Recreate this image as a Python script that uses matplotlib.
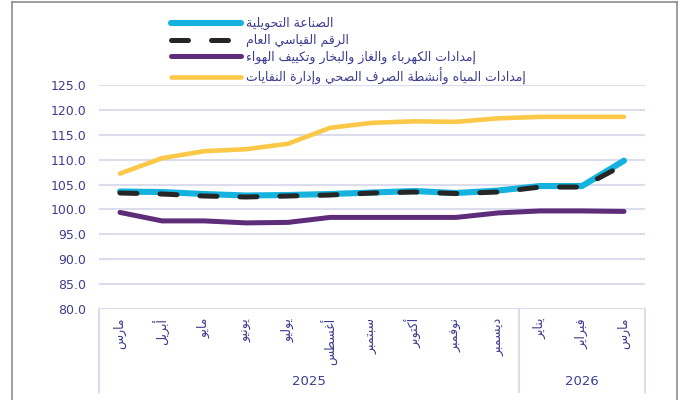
import matplotlib
matplotlib.use('Agg')
import matplotlib.pyplot as plt
from matplotlib.lines import Line2D

# data
months = ['مارس', 'أبريل', 'مايو', 'يونيو', 'يوليو', 'أغسطس', 'سبتمبر',
          'أكتوبر', 'نوفمبر', 'ديسمبر', 'يناير', 'فبراير', 'مارس']
years = ['2025', '2026']
year_counts = [10, 3]

manufacturing = [103.6, 103.5, 103.1, 102.8, 102.9, 103.1, 103.4, 103.7, 103.3, 103.8, 104.7, 104.7, 109.8]
general_index = [103.3, 103.1, 102.7, 102.5, 102.7, 102.9, 103.3, 103.5, 103.2, 103.5, 104.5, 104.5, 109.0]
electricity = [99.4, 97.7, 97.7, 97.3, 97.4, 98.4, 98.4, 98.4, 98.4, 99.3, 99.7, 99.7, 99.6]
water = [107.2, 110.3, 111.7, 112.1, 113.2, 116.4, 117.4, 117.7, 117.6, 118.3, 118.6, 118.6, 118.6]

series_names = ['الصناعة التحويلية', 'الرقم القياسي العام',
                'إمدادات الكهرباء والغاز والبخار وتكييف الهواء',
                'إمدادات المياه وأنشطة الصرف الصحي وإدارة النفايات']

# --- minimal arabic shaping (matplotlib has no text shaping) ---
DUAL = {'ئ': 0xFE89, 'ب': 0xFE8F, 'ت': 0xFE95, 'ث': 0xFE99, 'ج': 0xFE9D, 'ح': 0xFEA1,
        'خ': 0xFEA5, 'س': 0xFEB1, 'ش': 0xFEB5, 'ص': 0xFEB9, 'ض': 0xFEBD, 'ط': 0xFEC1,
        'ظ': 0xFEC5, 'ع': 0xFEC9, 'غ': 0xFECD, 'ف': 0xFED1, 'ق': 0xFED5, 'ك': 0xFED9,
        'ل': 0xFEDD, 'م': 0xFEE1, 'ن': 0xFEE5, 'ه': 0xFEE9, 'ي': 0xFEF1}
RIGHT = {'آ': 0xFE81, 'أ': 0xFE83, 'ؤ': 0xFE85, 'إ': 0xFE87, 'ا': 0xFE8D, 'ة': 0xFE93,
         'د': 0xFEA9, 'ذ': 0xFEAB, 'ر': 0xFEAD, 'ز': 0xFEAF, 'و': 0xFEED, 'ى': 0xFEEF}
LAM_ALEF = {'آ': 0xFEF5, 'أ': 0xFEF7, 'إ': 0xFEF9, 'ا': 0xFEFB}


def shape(text):
    out = []
    i = 0
    while i < len(text):
        ch = text[i]
        prev = text[i - 1] if i > 0 else ''
        joins_prev = prev in DUAL and (ch in DUAL or ch in RIGHT)
        nxt = text[i + 1] if i + 1 < len(text) else ''
        if ch == 'ل' and nxt in LAM_ALEF:
            out.append(chr(LAM_ALEF[nxt] + (1 if joins_prev else 0)))
            i += 2
            continue
        if ch in DUAL:
            joins_next = nxt in DUAL or nxt in RIGHT
            k = {(False, False): 0, (True, False): 1, (False, True): 2, (True, True): 3}[(joins_prev, joins_next)]
            out.append(chr(DUAL[ch] + k))
        elif ch in RIGHT:
            out.append(chr(RIGHT[ch] + (1 if joins_prev else 0)))
        elif ch == 'ء':
            out.append(chr(0xFE80))
        else:
            out.append(ch)
        i += 1
    return ''.join(out)[::-1]


plt.rcParams['font.family'] = ['DejaVu Sans']
txt_color = '#3e3d8f'
grid_color = '#dcdcef'

fig = plt.figure(figsize=(6.83, 4.0), dpi=100)
ax = fig.add_axes([99 / 683, 1 - 309 / 400, 546 / 683, 224 / 400])

x = list(range(len(months)))
l1, = ax.plot(x, manufacturing, color='#14b2de', lw=4.4, solid_capstyle='round', zorder=3)
l2, = ax.plot(x, general_index, color='#262626', lw=3.6, ls=(0, (3.4, 4.6)),
              dash_capstyle='round', zorder=4)
l3, = ax.plot(x, electricity, color='#5e2d79', lw=3.6, solid_capstyle='round', zorder=3)
l4, = ax.plot(x, water, color='#fcc847', lw=3.3, solid_capstyle='round', zorder=3)

ax.set_xlim(-0.5, len(months) - 0.5)
ax.set_ylim(80, 125)
ax.set_yticks(range(80, 126, 5))
ax.set_yticklabels(['%.1f' % v for v in range(80, 126, 5)])
ax.yaxis.grid(True, color=grid_color, lw=1.5)
ax.set_axisbelow(True)
for s in ax.spines.values():
    s.set_visible(False)
ax.tick_params(axis='y', length=0, pad=9, labelsize=9, labelcolor=txt_color)
ax.set_xticks([])

# category axis: month labels, year labels and separators
for i, m in enumerate(months):
    ax.text(i, -0.04, shape(m), rotation=90, ha='center', va='top', fontsize=9,
            color=txt_color, transform=ax.get_xaxis_transform())
start = 0
bounds = [-0.5]
for yr, n in zip(years, year_counts):
    ax.text(start + (n - 1) / 2, -0.325, yr, ha='center', va='center', fontsize=9.5,
            color=txt_color, transform=ax.get_xaxis_transform())
    start += n
    bounds.append(start - 0.5)
for b in bounds:
    ax.plot([b, b], [0, -0.37], color=grid_color, lw=1.5, clip_on=False,
            transform=ax.get_xaxis_transform())

fig.legend([l1, l2, l3, l4], [shape(s) for s in series_names],
           loc='upper left', bbox_to_anchor=(160 / 683, 1 - 6 / 400),
           frameon=False, handlelength=5.6, handletextpad=0.35, labelspacing=0.28,
           fontsize=9, labelcolor=txt_color)

# outer border
bc = '#8c8c8c'
fig.add_artist(Line2D([12 / 683, 12 / 683], [0, 1 - 2 / 400], color=bc, lw=1.2))
fig.add_artist(Line2D([677 / 683, 677 / 683], [0, 1 - 2 / 400], color=bc, lw=1.2))
fig.add_artist(Line2D([12 / 683, 677 / 683], [1 - 2 / 400, 1 - 2 / 400], color=bc, lw=1.2))

fig.savefig('out.png', dpi=100)
